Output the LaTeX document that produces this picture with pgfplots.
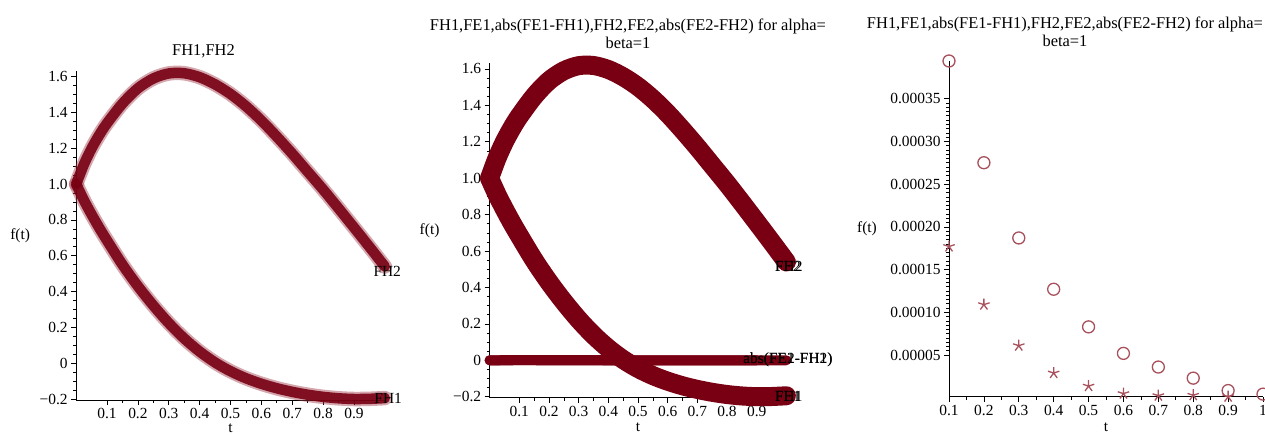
\documentclass[border=0pt]{standalone}
\usepackage{fontspec}
\setmainfont{Liberation Serif}
\usepackage{pgfplots}
\usepackage{pgfplotstable}
\pgfplotsset{compat=1.18}
\definecolor{bandred}{RGB}{120,0,18}
\definecolor{bandlight}{RGB}{160,60,75}
\definecolor{markred}{RGB}{168,80,92}

\pgfplotstableread{
t     fh1     fh2
0     1.000   1.000
0.025 0.910   1.110
0.05  0.830   1.200
0.075 0.755   1.275
0.1   0.685   1.340
0.15  0.550   1.450
0.2   0.430   1.535
0.25  0.322   1.590
0.3   0.224   1.618
0.35  0.138   1.619
0.4   0.065   1.597
0.45  0.004   1.557
0.5   -0.045  1.503
0.55  -0.084  1.435
0.6   -0.115  1.355
0.65  -0.140  1.265
0.7   -0.160  1.170
0.75  -0.176  1.070
0.8   -0.188  0.970
0.85  -0.196  0.865
0.9   -0.200  0.758
0.95  -0.199  0.650
1.0   -0.195  0.540
}\curves

\newcommand{\tickfont}{\fontsize{15.5}{18}\selectfont}
\newcommand{\titlefont}{\fontsize{16.5}{18.3}\selectfont}

\pgfplotsset{
  mapleaxis/.style={
    scale only axis,
    axis x line*=bottom, axis y line*=left,
    axis line style={-, black, line width=0.8bp},
    tick align=outside,
    major tick length=5bp, minor tick length=3bp,
    every tick/.style={black, line width=0.6bp},
    clip=false,
    tick label style={font=\tickfont, text=black},
    anchor=south west,
  },
  curveaxis/.style={
    mapleaxis,
    xmin=0, xmax=1, ymin=-0.205, ymax=1.63,
    xtick={0.1,0.2,0.3,0.4,0.5,0.6,0.7,0.8,0.9},
    xticklabels={0.1,0.2,0.3,0.4,0.5,0.6,0.7,0.8,0.9},
    minor x tick num=1,
    ytick={-0.2,0,0.2,0.4,0.6,0.8,1.0,1.2,1.4,1.6},
    yticklabels={−0.2,0,0.2,0.4,0.6,0.8,1.0,1.2,1.4,1.6},
    minor y tick num=3,
  },
}

\begin{document}
\begin{tikzpicture}
\useasboundingbox (0bp,0bp) rectangle (1265bp,435bp);

% ---------- Panel 1 ----------
\begin{axis}[curveaxis,
  at={(76.2bp,35.1bp)}, width=308.6bp, height=328.6bp,
  title={FH1,FH2},
  every axis title/.style={at={(axis description cs:0.5,1)}, anchor=center, xshift=-27bp, yshift=19.6bp, font=\titlefont},
  xlabel={t},
  every axis x label/.style={at={(axis description cs:0.5,0)}, anchor=center, yshift=-28bp, font=\tickfont},
  ylabel={f(t)},
  every axis y label/.style={at={(axis description cs:0,0.5)}, anchor=center, xshift=-56bp, font=\tickfont},
]
\addplot[smooth, bandlight, opacity=0.45, line width=14.5bp, line join=round, line cap=round] table[x=t,y=fh1] {\curves};
\addplot[smooth, bandlight, opacity=0.45, line width=14.5bp, line join=round, line cap=round] table[x=t,y=fh2] {\curves};
\addplot[smooth, bandred, opacity=0.9, line width=10.5bp, line join=round, line cap=round] table[x=t,y=fh1] {\curves};
\addplot[smooth, bandred, opacity=0.9, line width=10.5bp, line join=round, line cap=round] table[x=t,y=fh2] {\curves};
\node[anchor=west, font=\tickfont] at (axis cs:0.952,0.511) {FH2};
\node[anchor=west, font=\tickfont] at (axis cs:0.955,-0.197) {FH1};
\end{axis}

% ---------- Panel 2 ----------
\begin{axis}[curveaxis,
  at={(489.6bp,37.4bp)}, width=296.8bp, height=334.1bp,
  title={FH1,FE1,abs(FE1-FH1),FH2,FE2,abs(FE2-FH2) for alpha=\\beta=1},
  every axis title/.style={at={(axis description cs:0.5,1)}, anchor=center, align=center, xshift=-10bp, yshift=29.5bp, font=\titlefont},
  xlabel={t},
  every axis x label/.style={at={(axis description cs:0.5,0)}, anchor=center, yshift=-30bp, font=\tickfont},
  ylabel={f(t)},
  every axis y label/.style={at={(axis description cs:0,0.5)}, anchor=center, xshift=-60bp, font=\tickfont},
]
\addplot[smooth, bandred, line width=19bp, line join=round, line cap=round] table[x=t,y=fh1] {\curves};
\addplot[smooth, bandred, line width=19bp, line join=round, line cap=round] table[x=t,y=fh2] {\curves};
\addplot[bandred, line width=10bp, line cap=round] coordinates {
(0,0) (0.1,0.000394) (0.2,0.000275) (0.3,0.000187) (0.4,0.000127) (0.5,0.000083)
(0.6,0.000052) (0.7,0.000036) (0.8,0.000023) (0.9,0.0000085) (1.0,0.0000043)};
\addplot[bandred, line width=10bp, line cap=round] coordinates {
(0,0) (0.1,0.000177) (0.2,0.000109) (0.3,0.000061) (0.4,0.000029) (0.5,0.0000137)
(0.6,0.0000049) (0.7,0.0000025) (0.8,0.000003) (0.9,0.0000013)};
\node[anchor=west, font=\tickfont] at (axis cs:0.95,0.514) {FH2};
\node[anchor=west, font=\tickfont] at (axis cs:0.95,0.514) {FE2};
\node[anchor=west, font=\tickfont] at (axis cs:0.843,0.0) {abs(FE1-FH1)};
\node[anchor=west, font=\tickfont] at (axis cs:0.843,0.0) {abs(FE2-FH2)};
\node[anchor=west, font=\tickfont] at (axis cs:0.95,-0.2) {FE1};
\node[anchor=west, font=\tickfont] at (axis cs:0.95,-0.2) {FH1};
\end{axis}

% ---------- Panel 3 ----------
\begin{axis}[mapleaxis,
  at={(949bp,38.3bp)}, width=314bp, height=335.7bp,
  xmin=0.1, xmax=1, ymin=0.0000013, ymax=0.000394,
  xtick={0.1,0.2,0.3,0.4,0.5,0.6,0.7,0.8,0.9,1.0},
  xticklabels={0.1,0.2,0.3,0.4,0.5,0.6,0.7,0.8,0.9,1},
  minor x tick num=1,
  ytick={0.00005,0.0001,0.00015,0.0002,0.00025,0.0003,0.00035},
  yticklabels={0.00005,0.00010,0.00015,0.00020,0.00025,0.00030,0.00035},
  minor y tick num=9,
  scaled y ticks=false,
  title={FH1,FE1,abs(FE1-FH1),FH2,FE2,abs(FE2-FH2) for alpha=\\beta=1},
  every axis title/.style={at={(axis description cs:0.5,1)}, anchor=center, align=center, xshift=-41bp, yshift=29bp, font=\titlefont},
  xlabel={t},
  every axis x label/.style={at={(axis description cs:0.5,0)}, anchor=center, yshift=-31bp, font=\tickfont},
  ylabel={f(t)},
  every axis y label/.style={at={(axis description cs:0,0.5)}, anchor=center, xshift=-82bp, font=\tickfont},
]
\addplot[only marks, mark=o, mark size=6bp, mark options={markred, line width=1.3bp}] coordinates {
(0.1,0.000394) (0.2,0.000275) (0.3,0.000187) (0.4,0.000127) (0.5,0.000083)
(0.6,0.000052) (0.7,0.000036) (0.8,0.000023) (0.9,0.0000085) (1.0,0.0000043)};
\addplot[only marks, mark=star, mark size=6bp, mark options={markred, line width=1.3bp}] coordinates {
(0.1,0.000177) (0.2,0.000109) (0.3,0.000061) (0.4,0.000029) (0.5,0.0000137)
(0.6,0.0000049) (0.7,0.0000025) (0.8,0.000003) (0.9,0.0000013)};
\end{axis}
\end{tikzpicture}
\end{document}
